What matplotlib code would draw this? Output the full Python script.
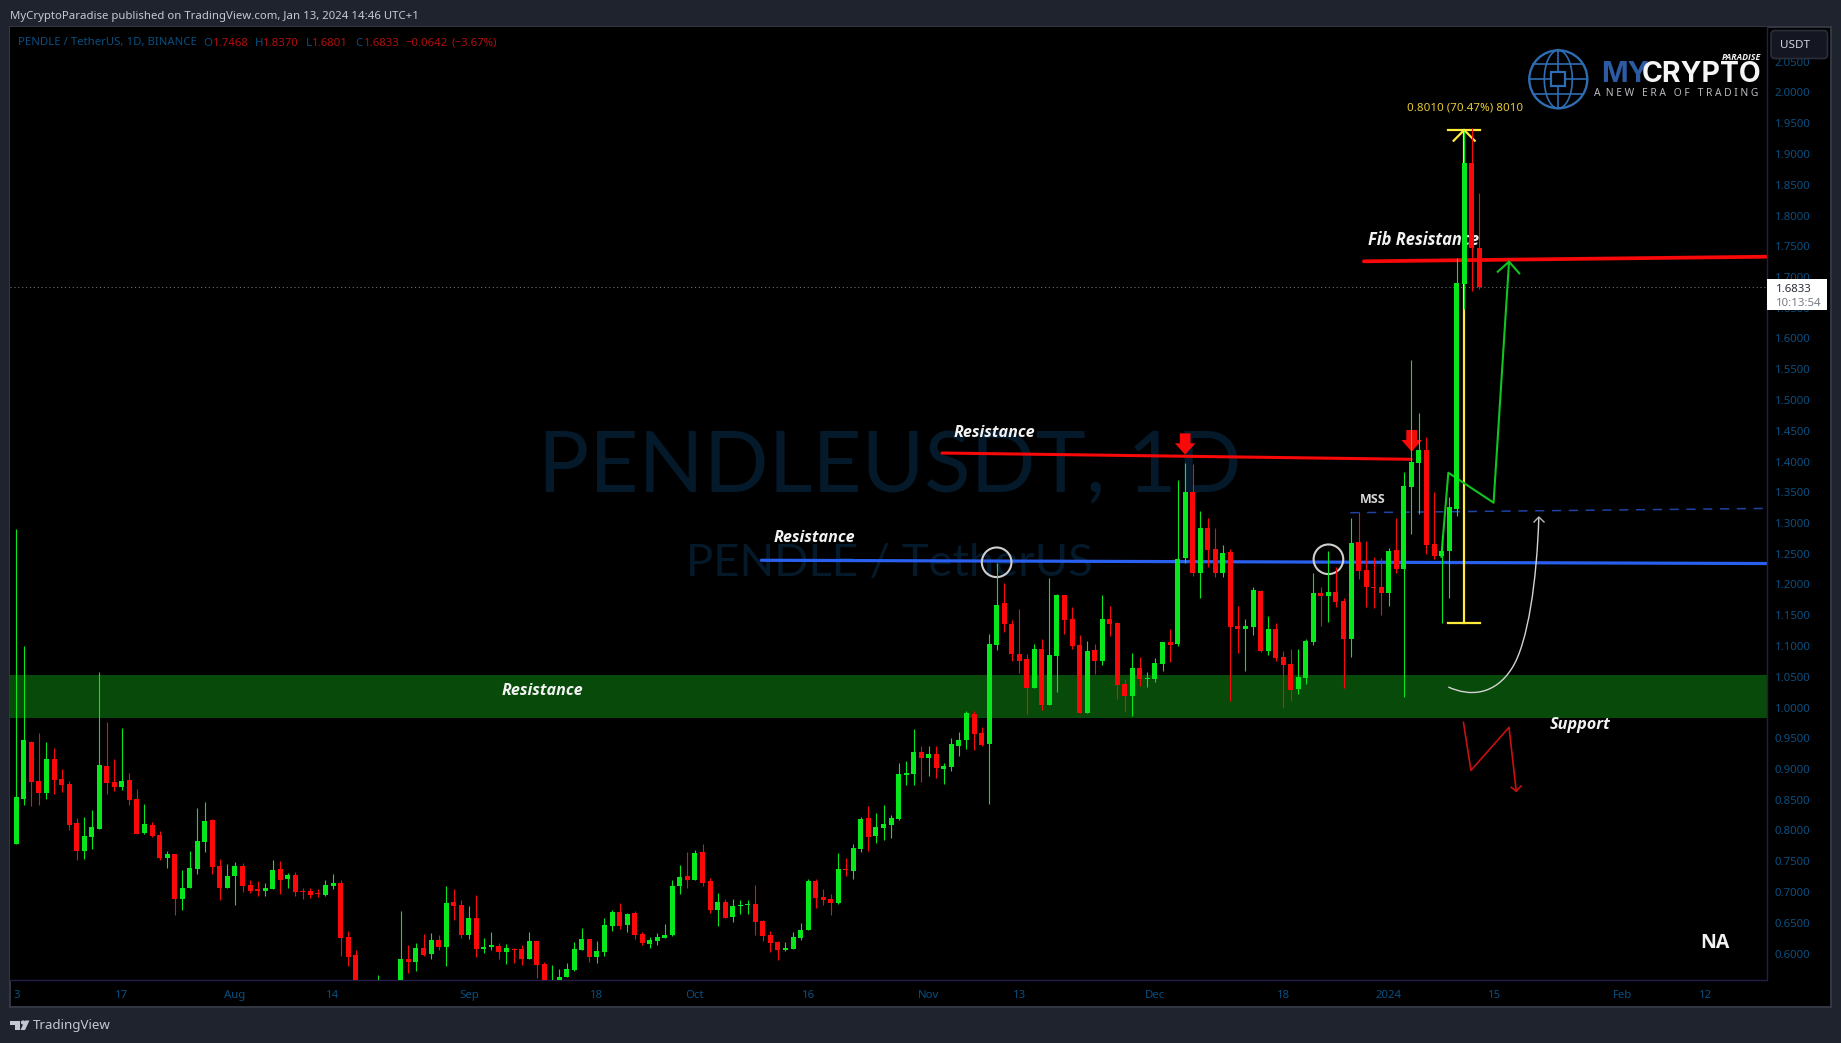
import matplotlib
matplotlib.use("Agg")
import matplotlib.pyplot as plt
import numpy as np
from matplotlib.patches import Rectangle, Circle, FancyBboxPatch, PathPatch, Polygon
from matplotlib.path import Path

# ---- OHLC, one daily candle per index, starting 3 Jul 2023 ----
opens = [
 .7786,.8512,.9439,.8805,.8610,.9163,.8838,.8756,.8122,.7667,
 .7894,.8024,.9049,.8789,.8707,.8821,.8512,.7959,.8090,.7927,
 .7553,.7618,.6886,.7065,.7374,.7813,.8171,.7423,.7065,.7260,
 .7423,.7114,.7049,.7016,.7049,.7374,.7211,.7276,.7016,.7016,
 .6984,.6951,.7098,.7147,.6268,.5976,.53,.50,.50,.53,
 .51,.53,.5911,.5862,.6090,.5992,.6220,.6106,.6838,.6789,
 .6301,.6577,.6073,.6106,.6122,.6025,.6073,.6073,.5911,.6203,
 .5829,.54,.55,.5618,.5732,.6057,.6236,.5943,.6025,.6447,
 .6675,.6464,.6659,.6317,.6155,.6203,.6252,.6301,.7098,.7260,
 .7195,.7651,.7179,.6707,.6838,.6594,.6773,.6789,.6805,.6529,
 .6301,.6187,.6057,.6073,.6252,.6382,.7179,.6919,.6886,.6821,
 .7374,.7342,.7699,.8203,.7911,.8041,.8090,.8187,.8903,.8919,
 .9276,.9179,.9244,.9000,.9033,.9374,.9472,.9894,.9585,.9407,
 1.1017,1.1699,1.1358,1.0870,1.0789,1.0317,1.0951,1.0041,1.0838,1.1830,
 1.1439,1.1017,.9911,1.0935,1.0756,1.1439,1.1374,1.0382,1.0187,1.0642,
 1.0464,1.0464,1.0708,1.1065,1.1033,1.2431,1.3504,1.2187,1.2919,1.2577,
 1.2187,1.2529,1.1325,1.1277,1.1309,1.1895,1.0919,1.1277,1.0821,1.0708,
 1.0301,1.0480,1.1065,1.1862,1.1813,1.1878,1.1732,1.1114,1.2691,1.2236,
 1.1960,1.1960,1.1862,1.2561,1.2252,1.3585,1.3976,1.4187,1.2659,1.2464,
 1.2545,1.3228,1.6886,1.8853,1.7468]
highs = [
 1.2902,1.0999,.9455,.9585,.9439,.9342,.9000,.8805,.8203,.8220,
 .8333,1.0577,.9764,.9163,.9667,.8935,.8675,.8431,.8138,.7992,
 .7667,.7618,.7358,.7667,.8366,.8463,.8187,.7537,.7455,.7488,
 .7472,.7195,.7179,.7147,.7521,.7504,.7309,.7325,.7065,.7065,
 .7049,.7195,.7293,.7195,.6366,.6057,.54,.53,.5650,.54,
 .55,.6691,.6138,.6171,.6317,.6333,.6301,.7098,.7049,.6870,
 .6772,.6951,.6252,.6350,.6171,.6155,.6090,.6138,.6350,.6203,
 .5862,.5813,.5748,.5846,.6187,.6415,.6236,.6203,.6577,.6708,
 .6821,.6659,.6691,.6350,.6268,.6333,.6480,.7195,.7439,.7651,
 .7683,.7781,.7228,.6984,.6886,.6886,.6870,.6870,.7114,.6545,
 .6366,.6203,.6187,.6350,.6496,.7211,.7211,.7049,.6968,.7634,
 .7553,.7781,.8220,.8398,.8285,.8415,.8252,.9098,.9130,.9650,
 .9374,.9374,.9374,.9098,.9504,.9602,.9943,.9943,.9683,1.1195,
 1.2350,1.2025,1.1423,1.1602,1.0870,1.1033,1.1114,1.2106,1.1846,1.1830,
 1.1634,1.1179,1.1082,1.1033,1.1830,1.1651,1.1390,1.0464,1.0886,1.0821,
 1.0577,1.0805,1.1065,1.1277,1.3699,1.3976,1.3960,1.3195,1.3082,1.2919,
 1.2642,1.2577,1.1651,1.1439,1.1960,1.1911,1.1488,1.1374,1.0919,1.0951,
 1.0951,1.1114,1.2187,1.1960,1.2545,1.2285,1.1781,1.3082,1.3179,1.2708,
 1.2447,1.2431,1.2594,1.3082,1.3830,1.5651,1.4789,1.4399,1.3504,1.2805,
 1.3423,1.7309,1.9379,1.9422,1.8370]
lows = [
 .7786,.8415,.8398,.8415,.8512,.8594,.8626,.8008,.7521,.7537,
 .7699,.8024,.8594,.8642,.8659,.8415,.7943,.7943,.7894,.7521,
 .7390,.6626,.6707,.7065,.7293,.7650,.7293,.6870,.7065,.6789,
 .7000,.6984,.6935,.6935,.7049,.6967,.7065,.6935,.6886,.6903,
 .6919,.6935,.7049,.5959,.5797,.51,.49,.48,.49,.50,
 .49,.52,.5683,.5716,.5959,.5911,.6057,.5797,.6545,.6252,
 .6236,.5943,.6008,.6057,.5911,.5829,.5846,.5813,.5911,.5602,
 .54,.53,.545,.5618,.5716,.6057,.5862,.5846,.5959,.6366,
 .6399,.6350,.6236,.6138,.6090,.6138,.6252,.6285,.6968,.7065,
 .7195,.7098,.6659,.6447,.6577,.6512,.6642,.6642,.6301,.6203,
 .6025,.5894,.6041,.6073,.6220,.6382,.6740,.6789,.6626,.6805,
 .7260,.7211,.7650,.7667,.7797,.7846,.7878,.8171,.8740,.8740,
 .8789,.8886,.8854,.8756,.8968,.9211,.9325,.9309,.9374,.8431,
 1.0935,1.1228,1.0756,1.0561,.9895,1.0317,.9960,1.0041,1.0252,1.1195,
 1.0951,.9911,.9911,1.0545,1.0691,1.1163,1.0138,.9927,.9862,1.0350,
 1.0334,1.0415,1.0594,1.0740,1.1000,1.2350,1.2138,1.1781,1.2285,1.2122,
 1.2122,1.0106,1.0886,1.0594,1.1179,1.0903,1.0854,1.0756,.9998,1.0106,
 1.0220,1.0382,1.1017,1.1325,1.1390,1.1634,1.0317,1.0821,1.2090,1.1634,
 1.1618,1.1504,1.1651,1.2187,1.0176,1.2821,1.3147,1.2496,1.2415,1.138,
 1.178,1.3114,1.6480,1.6772,1.6801]
closes = [
 .8545,.9472,.8789,.8610,.9163,.8821,.8740,.8090,.7667,.7911,
 .8057,.9065,.8772,.8707,.8805,.8496,.7943,.8106,.7911,.7553,
 .7618,.6886,.7065,.7390,.7829,.8155,.7407,.7065,.7260,.7423,
 .7098,.7016,.7016,.7065,.7358,.7195,.7276,.7000,.7000,.6951,
 .6967,.7114,.7147,.6252,.5943,.53,.50,.52,.53,.51,
 .53,.5911,.5862,.6090,.5976,.6220,.6106,.6821,.6772,.6301,
 .6577,.6073,.6106,.6138,.6025,.6090,.6057,.5911,.6203,.5813,
 .55,.555,.5618,.5748,.6073,.6236,.5943,.6041,.6464,.6675,
 .6447,.6642,.6301,.6171,.6220,.6268,.6301,.7098,.7244,.7195,
 .7634,.7146,.6707,.6838,.6577,.6773,.6789,.6805,.6512,.6285,
 .6171,.6057,.6090,.6268,.6382,.7179,.6903,.6870,.6821,.7374,
 .7358,.7716,.8187,.7894,.8057,.8106,.8203,.8919,.8935,.9276,
 .9179,.9244,.9016,.9049,.9407,.9472,.9911,.9569,.9390,1.1033,
 1.1667,1.1358,1.0870,1.0756,1.0317,1.0951,1.0041,1.0854,1.1830,1.1423,
 1.1000,.9911,1.0919,1.0756,1.1439,1.1358,1.0366,1.0187,1.0642,1.0464,
 1.0480,1.0724,1.1065,1.1017,1.2415,1.3504,1.2187,1.2919,1.2561,1.2187,
 1.2512,1.1309,1.1277,1.1325,1.1911,1.0919,1.1277,1.0805,1.0691,1.0285,
 1.0496,1.1082,1.1862,1.1813,1.1878,1.1716,1.1114,1.2675,1.2220,1.1960,
 1.1943,1.1862,1.2545,1.2252,1.3602,1.3992,1.4187,1.2643,1.2464,1.2545,
 1.3261,1.6902,1.8853,1.7471,1.6833]

time_ticks = [0, 14, 29, 42, 60, 77, 90, 105, 121, 133, 151, 168, 182, 196, 213, 224]
time_labels = ["3", "17", "Aug", "14", "Sep", "18", "Oct", "16", "Nov", "13", "Dec", "18", "2024", "15", "Feb", "12"]
price_ticks = [0.60, 0.65, 0.70, 0.75, 0.80, 0.85, 0.90, 0.95, 1.00, 1.05, 1.10, 1.15, 1.20, 1.25, 1.30,
               1.35, 1.40, 1.45, 1.50, 1.55, 1.60, 1.65, 1.70, 1.75, 1.80, 1.85, 1.90, 1.95, 2.00, 2.05]
last_price = 1.6833

# ---- drawings: (candle index, price) ----
zone_top, zone_bottom = 1.0528, 0.9829
fib_line = ([178.7, 232.2], [1.7255, 1.7330])
red_line = ([122.75, 184.95], [1.4138, 1.4036])
blue_line = ([98.8, 232.2], [1.2394, 1.2341])
mss_line = ([176.9, 231.9], [1.3167, 1.3237])
green_path = ([188.97, 189.9, 195.9, 197.95], [1.2452, 1.3818, 1.3330, 1.7249])
green_head = ([196.45, 197.95, 199.3], [1.7086, 1.7249, 1.7060])
red_path = ([191.9, 192.9, 197.95, 198.9], [0.9759, 0.8978, 0.9678, 0.8642])
red_head = ([198.25, 198.9, 199.55], [0.8702, 0.8642, 0.8724])
yellow_x, yellow_top, yellow_bottom = 192.0, 1.9390, 1.1379
yellow_cap = (189.8, 194.1)
yellow_head = ([190.6, 192.0, 193.4], [1.9216, 1.9390, 1.9216])
circles_x, circles_y = [130, 174], [1.2361, 1.2410]
curve_x = [189.9, 192.8, 196.1, 198.35, 200.46, 201.65, 201.9]
curve_y = [1.0333, 1.0171, 1.0203, 1.0642, 1.1049, 1.2073, 1.3098]
curve_head = ([201.26, 201.9, 202.59], [1.3016, 1.3098, 1.3016])
down_arrows = [(155.0, 1.4458, 1.4296, 1.4111), (185.04, 1.4512, 1.4350, 1.4159)]

W, H = 1841, 1043
BG = "#1f232e"
AXIS_BLUE = "#0a4f80"
UP, DOWN = "#07e81c", "#fb0808"
plt.rcParams['font.family'] = ['Noto Sans', 'DejaVu Sans']

def box(x0, y0, x1, y1):
    return [x0 / W, 1 - y1 / H, (x1 - x0) / W, (y1 - y0) / H]

fig = plt.figure(figsize=(W / 100, H / 100), dpi=100, facecolor=BG)

frame = fig.add_axes(box(9.5, 26.5, 1830.5, 1007), zorder=0, facecolor="black")
frame.set_xticks([]); frame.set_yticks([])
for s in frame.spines.values():
    s.set_color("#363a45"); s.set_linewidth(1.3)

ax = fig.add_axes(box(10, 27, 1767, 980), zorder=1, facecolor="black")
PX = 7.541
ax.set_xlim((10 - 16.3) / PX, (1767 - 16.3) / PX)
ax.set_ylim(2 - (980 - 92.5) / 615, 2 + (92.5 - 27) / 615)
for k, s in ax.spines.items():
    s.set_visible(k in ("right", "bottom"))
    s.set_color("#281c4a"); s.set_linewidth(1.0)
ax.yaxis.tick_right()
ax.set_yticks(price_ticks, [f"{p:.4f}" for p in price_ticks])
ax.set_xticks(time_ticks, time_labels)
ax.tick_params(axis="y", length=0, pad=5.5, labelsize=8.2, labelcolor=AXIS_BLUE)
ax.tick_params(axis="x", length=0, pad=7.5, labelsize=8.2, labelcolor=AXIS_BLUE)

# watermark
ax.text(538 / W, 1 - 492 / H, "PENDLEUSDT, 1D", transform=fig.transFigure, family="Lato",
        fontsize=61.5, color="#04192a", va="baseline", ha="left", zorder=0.5)
ax.text(686 / W, 1 - 576 / H, "PENDLE / TetherUS", transform=fig.transFigure, family="Lato",
        fontsize=32.7, color="#04192a", va="baseline", ha="left", zorder=0.5)

ax.axhspan(zone_bottom, zone_top, color="#074a09", lw=0, zorder=1)
ax.axhline(last_price, color="#6b6f78", lw=0.8, ls=(0, (1, 2.5)), zorder=1.5)

ax.plot(*blue_line, color="#2a60f0", lw=2.3, zorder=2, solid_capstyle="round")
ax.plot(*red_line, color="#f80808", lw=2.2, zorder=2, solid_capstyle="round")
ax.plot(*fib_line, color="#f80808", lw=2.7, zorder=2, solid_capstyle="round")
ax.plot(*mss_line, color="#1d43a5", lw=1.1, ls=(0, (6, 5)), zorder=2)

def label(x, y, s, size=11.6, style="italic", weight="bold", color="#f2f2f2", ha="left"):
    ax.text(x, y, s, fontsize=size, fontstyle=style, fontweight=weight, color=color,
            ha=ha, va="center", zorder=2.5, family="Open Sans")

label((501.5 - 16.3) / PX, 2 - (691 - 92.5) / 615, "Resistance")
label((774 - 16.3) / PX, 2 - (538.5 - 92.5) / 615, "Resistance")
label((954 - 16.3) / PX, 2 - (433 - 92.5) / 615, "Resistance")
label((1368 - 16.3) / PX, 2 - (240 - 92.5) / 615, "Fib Resistance", size=11.9)
label((1550 - 16.3) / PX, 2 - (725 - 92.5) / 615, "Support", size=11.7)
label((1360 - 16.3) / PX, 2 - (499.5 - 92.5) / 615, "MSS", size=9, style="normal", color="#d8d8d8")

for xc, t, m, b in down_arrows:
    ax.add_patch(Polygon([(xc - .71, t), (xc + .71, t), (xc + .71, m), (xc + 1.37, m), (xc, b),
                          (xc - 1.37, m), (xc - .71, m)], closed=True, fc="#f80808", ec="none", zorder=2.6))

ax.plot([yellow_x, yellow_x], [yellow_top, yellow_bottom], color="#ffeb3b", lw=1.6, zorder=3)
ax.plot(yellow_cap, [yellow_top] * 2, color="#ffeb3b", lw=1.6, zorder=3)
ax.plot(yellow_cap, [yellow_bottom] * 2, color="#ffeb3b", lw=1.6, zorder=3)
ax.plot(*yellow_head, color="#ffeb3b", lw=1.6, zorder=3)

ax.plot(*green_path, color="#12c41f", lw=1.5, zorder=3.2)
ax.plot(*green_head, color="#12c41f", lw=1.5, zorder=3.2)
ax.plot(*red_path, color="#c81010", lw=1.2, zorder=3.2)
ax.plot(*red_head, color="#c81010", lw=1.2, zorder=3.2)

curve = Path(list(zip(curve_x, curve_y)), [Path.MOVETO] + [Path.CURVE4] * 6)
ax.add_patch(PathPatch(curve, fc="none", ec="#d4d4d4", lw=1.0, zorder=3.2))
ax.plot(*curve_head, color="#b8b8b8", lw=1.0, zorder=3.2)
ax.scatter(circles_x, circles_y, s=455, facecolors="none", edgecolors="#cfcfcf", linewidths=1.5, zorder=3.3)

# candles
o, h, l, c = map(np.array, (opens, highs, lows, closes))
idx = np.arange(len(o))
up = c >= o
for mask, col in ((up, UP), (~up, DOWN)):
    ax.vlines(idx[mask], l[mask], h[mask], color=col, lw=0.8, zorder=4)
    ax.bar(idx[mask], np.maximum(np.abs(c - o)[mask], 0.0018), bottom=np.minimum(o, c)[mask],
           width=5 / PX, color=col, lw=0, zorder=4.5, antialiased=False)

# ---- page chrome, in pixel coordinates ----
ov = fig.add_axes([0, 0, 1, 1], zorder=5, facecolor="none")
ov.set_xlim(0, W); ov.set_ylim(H, 0); ov.axis("off")

ov.text(10, 16.5, "MyCryptoParadise published on TradingView.com, Jan 13, 2024 14:46 UTC+1",
        fontsize=8.2, color="#c6c9d1", va="center", fontweight="medium")
ov.text(18, 43, "PENDLE / TetherUS, 1D, BINANCE", fontsize=8.2, color=AXIS_BLUE, va="center")
legend_parts = [(203.7, "O", AXIS_BLUE), (212.7, "1.7468", "#b00e0e"), (255, "H", AXIS_BLUE), (263.3, "1.8370", "#b00e0e"),
                (305.7, "L", AXIS_BLUE), (312, "1.6801", "#b00e0e"), (355, "C", AXIS_BLUE), (364, "1.6833", "#b00e0e"),
                (405.7, "\u22120.0642", "#b00e0e"), (451.7, "(\u22123.67%)", "#b00e0e")]
for x, s, col in legend_parts:
    ov.text(x, 43, s, fontsize=8.2, color=col, va="center")

ov.text(1407, 108, "0.8010 (70.47%) 8010", fontsize=8.3, color="#e8cc35", va="center", fontweight="medium")
ov.text(1700, 943, "NA", fontsize=14, color="#f2f2f2", va="center", fontweight="bold", family="Open Sans")

# USDT button
ov.add_patch(FancyBboxPatch((1773, 32.5), 52.5, 24, boxstyle="round,pad=2,rounding_size=4",
                            fc="#141722", ec="#2a2e39", lw=1.2))
ov.text(1780, 45, "USDT", fontsize=8.4, color="#d1d4dc", va="center")

# last price tag
ov.add_patch(Rectangle((1767, 279), 60, 30.5, fc="white", ec="none"))
ov.text(1776, 289, "1.6833", fontsize=8.2, color="#2a2e39", va="center")
ov.text(1776, 303.5, "10:13:54", fontsize=8.2, color="#787b86", va="center")

# logo
gx, gy, gr = 1558.3, 79.3, 29
LB = "#2f6db3"
ov.add_patch(Circle((gx, gy), gr, fc="none", ec=LB, lw=1.7))
for dy in (-15, 15):
    half = np.sqrt(gr ** 2 - dy ** 2)
    ov.plot([gx - half, gx + half], [gy + dy, gy + dy], color=LB, lw=1.2)
ov.plot([gx, gx], [gy - gr, gy + gr], color=LB, lw=1.2)
ov.plot([gx - gr, gx + gr], [gy, gy], color=LB, lw=1.2)
tt = np.linspace(-np.pi / 2, np.pi / 2, 40)
for side in (-1, 1):
    ov.plot(gx + side * 14 * np.cos(tt), gy + gr * np.sin(tt), color=LB, lw=1.2)
ov.add_patch(Rectangle((gx - 7, gy - 7), 14, 14, fc="black", ec=LB, lw=1.6, zorder=3))
ov.text(1601, 74, "MY", family="Inter", fontweight="bold", fontsize=20.5, color="#2c5ba4", va="center")
ov.text(1642, 74, "CRYPTO", family="Inter", fontweight="bold", fontsize=20.5, color="#f5f5f5", va="center")
ov.text(1594, 93, "A  N E W   E R A   O F   T R A D I N G", fontsize=7.4, color="#b9bbbf", va="center")
ov.text(1761, 57, "PARADISE", fontsize=6.3, fontweight="bold", fontstyle="italic", color="#f2f2f2",
        va="center", ha="right", family="Open Sans")

# footer
TV = "#c5c8d0"
ov.add_patch(Polygon([(10, 1020.5), (20, 1020.5), (20, 1030), (15, 1030), (15, 1024.5), (10, 1024.5)], fc=TV, ec="none"))
ov.add_patch(Circle((23, 1022.5), 2.1, fc=TV, ec="none"))
ov.add_patch(Polygon([(25, 1020.5), (29.5, 1020.5), (25, 1030), (20.5, 1030)], fc=TV, ec="none"))
ov.text(33, 1025, "TradingView", fontsize=9.6, color=TV, va="center")

fig.savefig("out.png", dpi=100, facecolor=BG)
